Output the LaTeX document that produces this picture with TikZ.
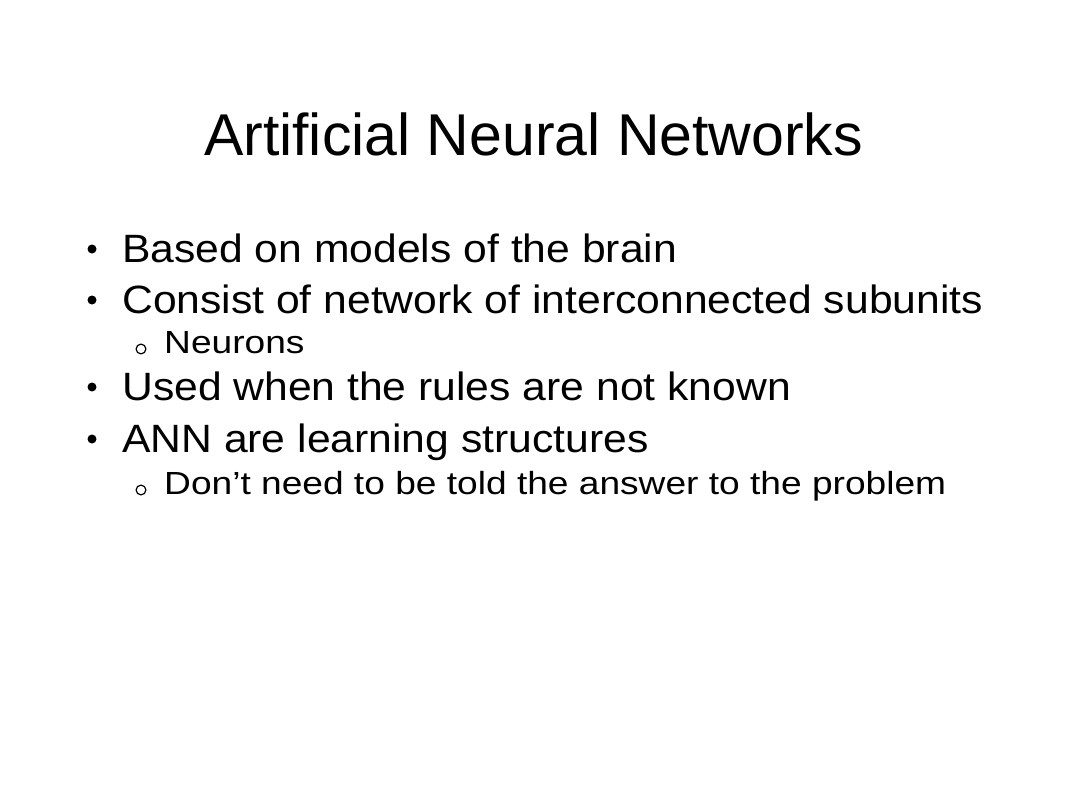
\documentclass[tikz,border=0pt]{standalone}
\usepackage{fontspec}
\setmainfont{Liberation Sans}
\newfontfamily\titlefont{Liberation Sans}
\newfontfamily\bodyfont[FakeStretch=1.08]{Liberation Sans}
\newfontfamily\subfont[FakeStretch=1.16]{Liberation Sans}
\begin{document}
\begin{tikzpicture}[x=1pt,y=-1pt,
  titletext/.style={anchor=base,inner sep=0pt,font=\titlefont\fontsize{59}{59}\selectfont},
  lvlone/.style={anchor=base west,inner sep=0pt,font=\bodyfont\fontsize{39.5}{39.5}\selectfont},
  lvltwo/.style={anchor=base west,inner sep=0pt,font=\subfont\fontsize{32}{32}\selectfont},
  dotbullet/.style={circle,fill=black,inner sep=0pt,minimum size=9pt},
  ringbullet/.style={circle,draw=black,line width=1.2pt,inner sep=0pt,minimum size=9.8pt}]
\useasboundingbox[fill=white] (0,0) rectangle (1066,800);
\node[titletext] (title) at (533.5,155) {Artificial Neural Networks};
% level one items
\node[lvlone] (l1) at (122,262) {Based on models of the brain};
\node[lvlone] (l2) at (122,313) {Consist of network of interconnected subunits};
\node[lvltwo] (s1) at (164,353) {Neurons};
\node[lvlone] (l3) at (122,400) {Used when the rules are not known};
\node[lvlone] (l4) at (122,452) {ANN are learning structures};
\node[lvltwo] (s2) at (164,494) {Don’t need to be told the answer to the problem};
% bullets
\node[dotbullet] (b1) at (92,249) {};
\node[dotbullet] (b2) at (92,300) {};
\node[dotbullet] (b3) at (92,387) {};
\node[dotbullet] (b4) at (92,439) {};
\node[ringbullet] (r1) at (141,349) {};
\node[ringbullet] (r2) at (141,490) {};
\end{tikzpicture}
\end{document}
